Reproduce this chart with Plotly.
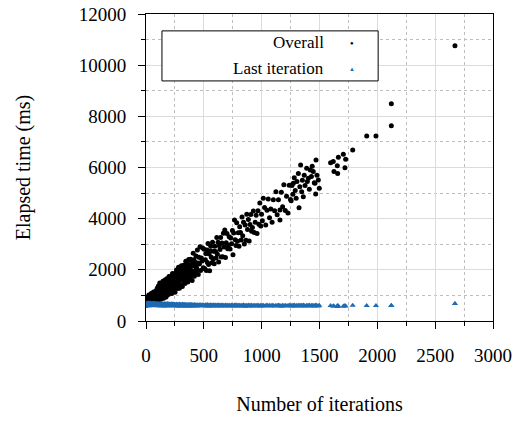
import plotly.graph_objects as go

# Number of iterations (x) for each run
iterations = [
    # 0-100
    1, 2, 3, 4, 6, 7, 8, 10, 11, 13, 14, 15, 17, 18, 20, 21, 23, 24, 26, 27,
    29, 30, 32, 34, 35, 37, 38, 40, 42, 43, 45, 47, 48, 50, 52, 54, 55, 57, 59, 61,
    62, 64, 66, 68, 70, 72, 74, 76, 78, 80, 82, 84, 86, 88, 90, 92, 94, 96, 98, 100,
    # 100-250
    102, 104, 105, 107, 109, 110, 112, 114, 116, 117, 119, 121, 123, 124, 126, 128, 130, 131, 133, 135,
    137, 139, 140, 142, 144, 146, 148, 149, 151, 153, 155, 157, 158, 160, 162, 164, 166, 168, 169, 171,
    173, 175, 177, 179, 180, 182, 184, 186, 188, 190, 192, 193, 195, 197, 199, 201, 203, 205, 207, 209,
    211, 213, 215, 217, 219, 221, 223, 225, 227, 229, 231, 233, 235, 237, 239, 241, 243, 245, 247, 249,
    # 250-500
    251, 254, 256, 259, 261, 264, 266, 269, 271, 274, 276, 279, 281, 284, 286, 289, 291, 294, 296, 299,
    301, 304, 306, 309, 311, 314, 316, 319, 321, 324, 326, 329, 331, 334, 336, 339, 341, 344, 346, 349,
    351, 354, 356, 359, 361, 364, 366, 369, 371, 374, 376, 379, 381, 384, 386, 389, 391, 394, 396, 399,
    402, 405, 408, 411, 414, 418, 421, 425, 428, 432, 436, 440, 444, 448, 452, 457, 462, 467, 472, 478,
    484, 490, 496,
    # 500-750
    503, 508, 513, 517, 522, 527, 531, 536, 541, 546, 550, 555, 560, 565, 570, 575, 580, 585, 590, 595,
    601, 606, 612, 617, 623, 628, 634, 640, 645, 651, 657, 663, 669, 675, 681, 687, 693, 700, 706, 713,
    719, 726, 733, 740, 747,
    # 750-1000
    752, 758, 765, 771, 778, 784, 791, 797, 804, 810, 817, 823, 830, 836, 843, 850, 857, 864, 871, 878,
    885, 892, 899, 906, 913, 920, 928, 936, 944, 952, 960, 968, 976, 984, 992, 999,
    # 1000-1250
    1006, 1014, 1025, 1035, 1046, 1057, 1068, 1079, 1090, 1101, 1112, 1123, 1134, 1145, 1158, 1158, 1170, 1181, 1192, 1204,
    1215, 1227, 1238, 1249,
    # 1250-1500
    1255, 1262, 1270, 1274, 1282, 1290, 1298, 1305, 1317, 1323, 1330, 1337, 1346, 1352, 1360, 1368, 1375, 1389, 1395, 1404,
    1412, 1420, 1430, 1437, 1446, 1455, 1461, 1467, 1470, 1478, 1490, 1498,
    # beyond 1500
    1596, 1619, 1625, 1654, 1657, 1663, 1706, 1720, 1726, 1787, 1908, 1988, 2121, 2121, 2671,
]

# Overall elapsed time (ms)
overall_ms = [
    772, 620, 917, 691, 835, 640, 750, 895, 645, 698, 932, 660, 758, 853, 650, 909, 709, 1012, 673, 838,
    660, 882, 959, 781, 692, 1022, 749, 871, 670, 950, 865, 756, 1082, 812, 1004, 688, 945, 882, 1074, 757,
    980, 757, 1131, 908, 1053, 738, 975, 1119, 873, 926, 1163, 848, 992, 1091, 822, 1151, 951, 1256, 918, 1086,
    1313, 902, 981, 1368, 843, 1074, 1233, 784, 1322, 984, 1485, 921, 1194, 850, 1261, 1382, 1085, 936, 1475, 1026,
    1223, 888, 1347, 1202, 1019, 1557, 1108, 1416, 890, 1315, 1208, 1519, 990, 1358, 985, 1600, 1226, 1461, 933, 1319,
    1326, 953, 1492, 1271, 1654, 1053, 1440, 1085, 1624, 1327, 1448, 1033, 1572, 1275, 1738, 1212, 1409, 1568, 1119, 1468,
    1284, 1747, 1222, 1381, 1692, 1584, 1078, 1541, 1282, 1859, 1371, 1720, 1195, 1658, 1513, 1291, 1830, 1457, 1388, 1813,
    1120, 1729, 1876, 1510, 1328, 1998, 1439, 1686, 1268, 1844, 1662, 1437, 2102, 1548, 1931, 1283, 1807, 1676, 2059, 1411,
    1864, 1405, 2163, 1704, 1992, 1345, 1821, 2114, 1603, 1708, 2184, 1537, 1825, 2024, 1466, 2135, 1718, 2340, 1641, 1981,
    1587, 2257, 1886, 2039, 1527, 2197, 1826, 2402, 1749, 1996, 2190, 1636, 2066, 1841, 2412, 1764, 1958, 2346, 2211, 1587,
    2161, 1842, 2650, 1956, 2390, 1745, 2319, 2145, 1873, 2545, 2088, 2008, 2780, 2270, 1814, 2489, 2224, 2900, 1976, 2466,
    2346, 2850, 2086,
    2808, 2041, 2394, 2632, 1977, 2778, 2287, 3032, 2209, 2618, 1960, 2733, 2918, 2487, 2280, 3081, 2426, 2723, 2236, 2925,
    2721, 2458, 3263, 2608, 3076, 2309, 2946, 2798, 3263, 2499, 3052, 2512, 3429, 2889, 3560, 2482, 3062, 3422, 2826, 2962,
    3295, 2818, 3242, 3016, 3540,
    2587, 3444, 3950, 3178, 2954, 3843, 3122, 3453, 2919, 3683, 3459, 3169, 4061, 3337, 3857, 3013, 3750, 3154, 4169, 3573,
    3969, 3125, 3769, 4164, 3506, 3654, 4301, 3460, 3860, 4135, 3418, 4313, 3782, 4616, 3713, 4171,
    3920, 4796, 4435, 3749, 4326, 4764, 4031, 4379, 3856, 4743, 4311, 5048, 4156, 4743, 4339, 3948, 5028, 4465, 5323, 4324,
    4881, 4222, 5309, 4747,
    4700, 5300, 4950, 5380, 5600, 5100, 4800, 5450, 5770, 4430, 5250, 6100, 5050, 5500, 4860, 5700, 5300, 5970, 5450, 5580,
    5150, 5900, 5650, 6050, 5840, 5400, 5380, 4960, 6290, 5700, 5510, 5190,
    6190, 6230, 5840, 6070, 5770, 6400, 6520, 5990, 6320, 6680, 7230, 7230, 7635, 8495, 10760,
]

# Elapsed time of the last iteration (ms)
last_iteration_ms = [
    640, 615, 665, 600, 685, 625, 650, 595, 670, 610, 655, 690, 605, 635, 660, 620, 700, 590, 645, 675,
    615, 650, 600, 680, 630, 660, 605, 640, 690, 620, 595, 655, 625, 670, 610, 645, 685, 600, 635, 660,
    620, 675, 605, 650, 630, 690, 610, 640, 665, 600, 645, 620, 680, 605, 655, 630, 595, 670, 615, 650,
    625, 660, 600, 640, 610, 675, 590, 650, 620, 635, 605, 665, 630, 595, 655, 615, 680, 600, 640, 625,
    650, 590, 670, 610, 635, 620, 660, 600, 645, 615, 585, 655, 630, 605, 670, 620, 640, 595, 650, 610,
    625, 600, 660, 635, 590, 645, 615, 670, 605, 630, 650, 595, 640, 620, 665, 600, 630, 610, 655, 590,
    635, 615, 645, 600, 625, 660, 595, 640, 610, 650, 620, 590, 635, 605, 655, 615, 600, 645, 625, 610,
    605, 640, 590, 625, 615, 650, 595, 630, 610, 585, 645, 600, 620, 635, 590, 610, 655, 600, 625, 595,
    640, 615, 585, 630, 605, 620, 650, 595, 610, 635, 590, 625, 600, 645, 615, 580, 630, 605, 620, 595,
    640, 610, 590, 625, 600, 635, 615, 585, 630, 605, 620, 595, 645, 610, 590, 625, 600, 615, 635, 585,
    605, 630, 595, 620, 610, 640, 590, 605, 625, 600, 615, 585, 630, 605, 595, 620, 610, 640, 590, 615,
    600, 625, 595,
    610, 590, 625, 600, 615, 580, 635, 595, 610, 620, 585, 605, 630, 595, 615, 600, 580, 625, 605, 590,
    620, 600, 610, 585, 630, 595, 605, 615, 580, 600, 625, 590, 610, 600, 585, 620, 595, 610, 605, 590,
    615, 585, 600, 620, 595,
    600, 585, 615, 595, 625, 590, 605, 580, 620, 600, 590, 610, 585, 600, 625, 595, 575, 610, 600, 590,
    620, 585, 605, 595, 615, 580, 600, 610, 590, 605, 585, 615, 600, 580, 610, 595,
    595, 610, 580, 600, 620, 590, 605, 585, 615, 600, 580, 605, 595, 620, 590, 600, 575, 610, 595, 605,
    585, 600, 615, 590,
    600, 585, 610, 595, 620, 580, 600, 605, 590, 615, 585, 600, 610, 590, 620, 595, 580, 605, 600, 590,
    615, 585, 600, 610, 595, 580, 605, 590, 620, 600, 585, 610,
    600, 585, 580, 600, 560, 590, 575, 600, 580, 610, 600, 600, 605, 600, 680,
]

x_tick_vals = [0, 500, 1000, 1500, 2000, 2500, 3000]
y_tick_vals = [0, 2000, 4000, 6000, 8000, 10000, 12000]
series_names = ["Overall", "Last iteration"]

FONT = "Liberation Serif, Times New Roman, serif"
BLUE = "#1f6bb3"

fig = go.Figure()
fig.add_trace(go.Scatter(
    x=iterations, y=overall_ms, mode="markers", name=series_names[0],
    marker=dict(color="black", size=5, symbol="circle"), showlegend=False,
))
fig.add_trace(go.Scatter(
    x=iterations, y=last_iteration_ms, mode="markers", name=series_names[1],
    marker=dict(color=BLUE, size=5.5, symbol="triangle-up"), showlegend=False,
))

axis_common = dict(
    showline=True, linecolor="black", linewidth=1, mirror=True,
    ticks="outside", ticklen=7, tickcolor="black", tickwidth=1,
    showgrid=True, gridcolor="#dcdcdc", gridwidth=1,
    zeroline=False, ticklabeloverflow="allow",
    tickfont=dict(family=FONT, size=19, color="black"),
)

fig.update_xaxes(
    range=[0, 3000], tickvals=x_tick_vals, ticktext=[str(v) for v in x_tick_vals],
    minor=dict(dtick=250, tick0=0, ticks="outside", ticklen=4, tickcolor="black",
               showgrid=True, gridcolor="#bdbdbd", griddash="dot", gridwidth=1),
    title=dict(text="Number of iterations", font=dict(family=FONT, size=20, color="black"), standoff=32),
    ticklabelstandoff=10,
    **axis_common,
)
fig.update_yaxes(
    range=[0, 12000], tickvals=y_tick_vals, ticktext=[str(v) for v in y_tick_vals],
    minor=dict(dtick=1000, tick0=0, ticks="outside", ticklen=4, tickcolor="black",
               showgrid=True, gridcolor="#bdbdbd", griddash="dot", gridwidth=1),
    title=dict(text="Elapsed time (ms)", font=dict(family=FONT, size=20, color="black"), standoff=42),
    ticklabelstandoff=8,
    **axis_common,
)

# Legend drawn as a box with right-aligned labels and glyphs on the right
fig.add_shape(type="rect", xref="paper", yref="paper", x0=0.046, x1=0.669, y0=0.782, y1=0.945,
              line=dict(color="black", width=1), fillcolor="white", layer="above")
legend_y = [0.906, 0.821]
for name, ly in zip(series_names, legend_y):
    fig.add_annotation(xref="paper", yref="paper", x=0.519, y=ly, text=name, showarrow=False,
                       xanchor="right", yanchor="middle",
                       font=dict(family=FONT, size=17, color="black"))
fig.add_annotation(xref="paper", yref="paper", x=0.594, y=legend_y[0], text="●", showarrow=False,
                   xanchor="center", yanchor="middle", font=dict(size=6, color="black"))
fig.add_annotation(xref="paper", yref="paper", x=0.594, y=legend_y[1], text="▲", showarrow=False,
                   xanchor="center", yanchor="middle", font=dict(size=6, color=BLUE))

fig.update_layout(
    width=523, height=422,
    margin=dict(l=146, r=30, t=14, b=101, autoexpand=False),
    plot_bgcolor="white", paper_bgcolor="white",
    font=dict(family=FONT, color="black"),
)

fig.write_html(
    "out.html",
    config={"displayModeBar": False},
    post_script="document.body.style.margin='0px';document.body.style.overflow='hidden';",
)
